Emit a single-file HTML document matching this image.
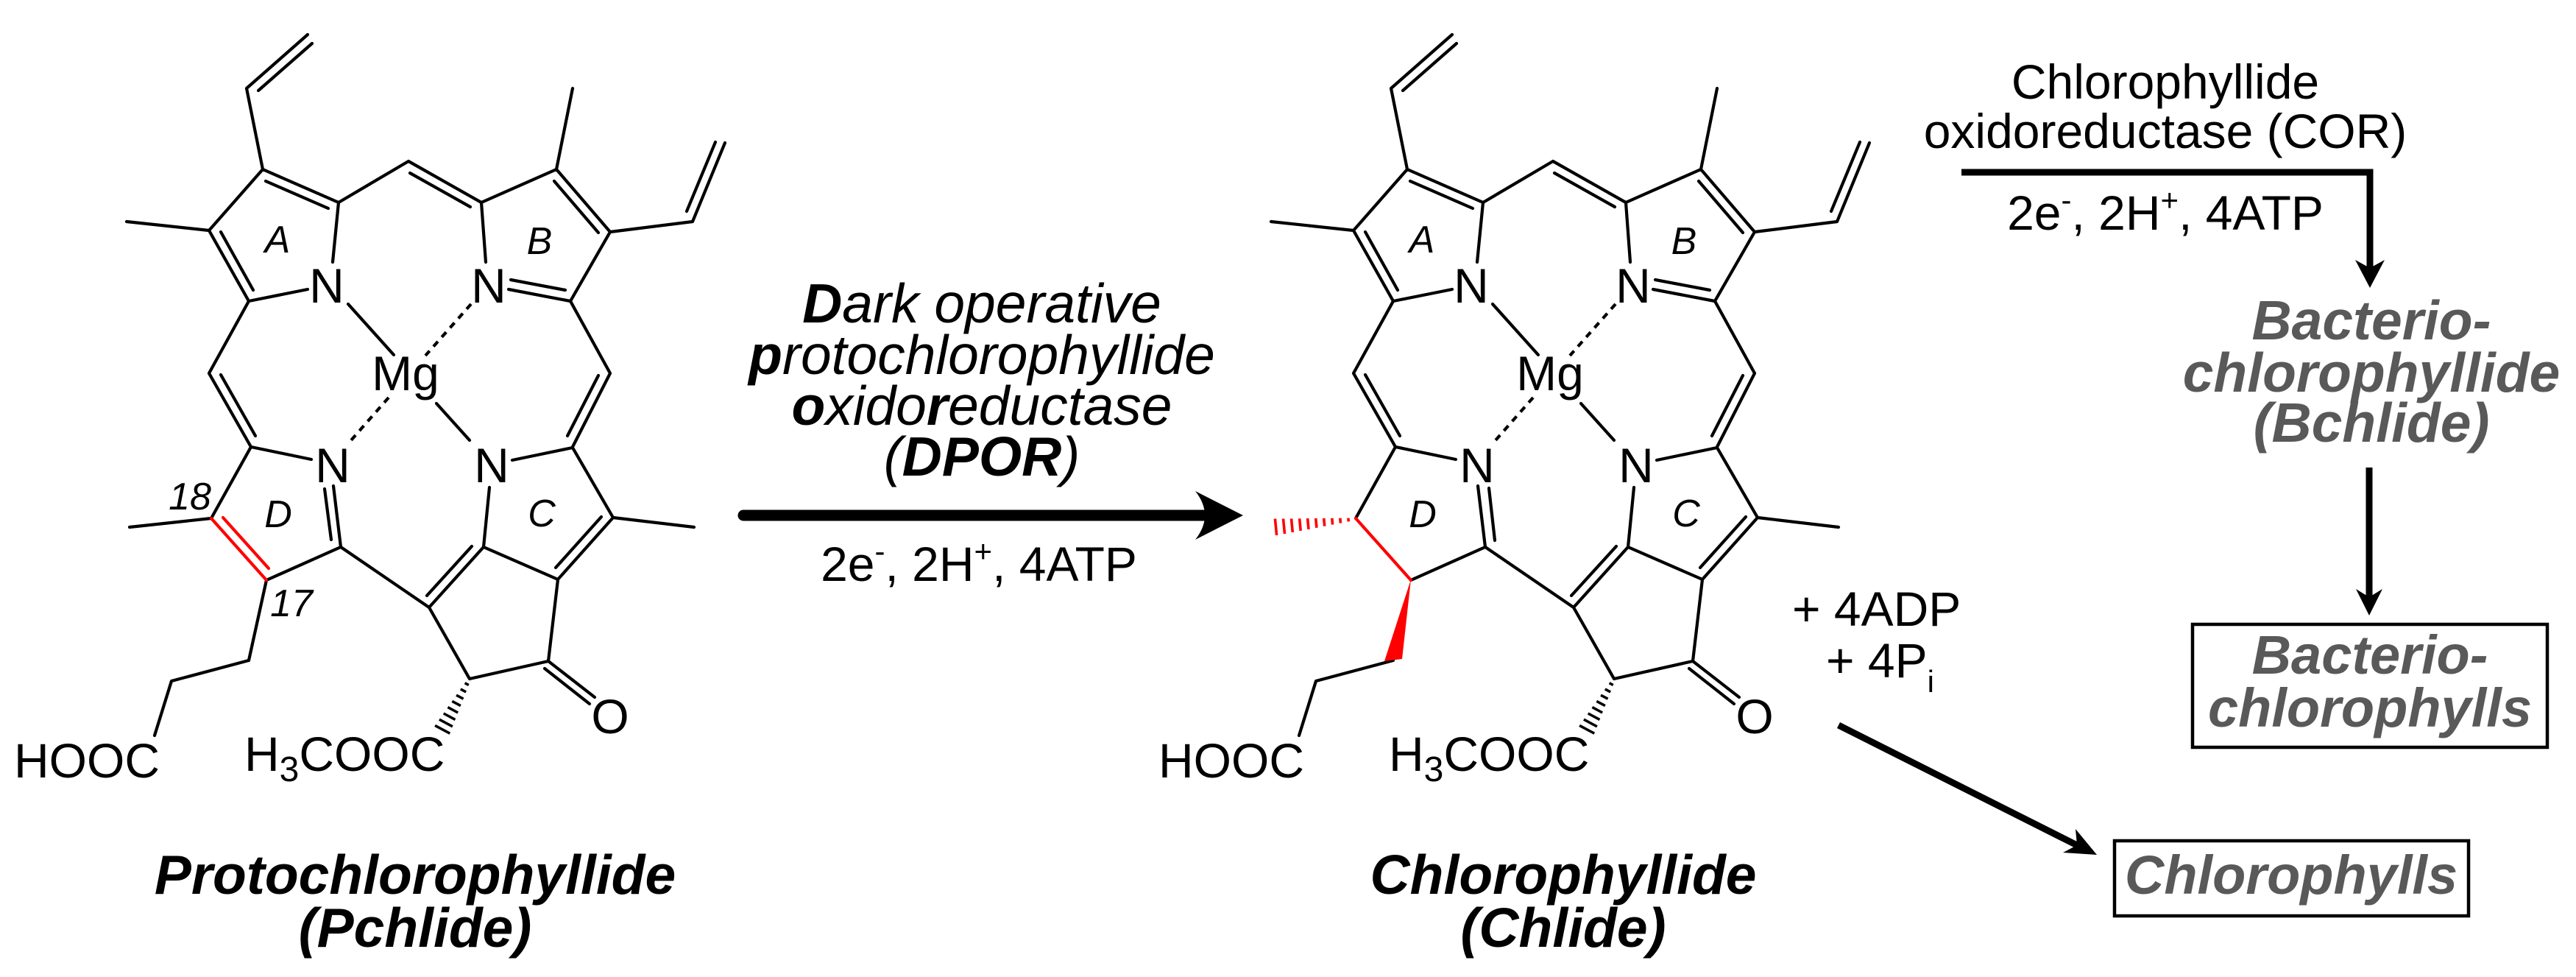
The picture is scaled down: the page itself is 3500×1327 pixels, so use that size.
<!DOCTYPE html>
<html>
<head>
<meta charset="utf-8">
<style>
  html,body{margin:0;padding:0;background:#fff;}
  svg{display:block;}
  text{font-family:"Liberation Sans", Arial, sans-serif;}
</style>
</head>
<body>
<svg width="3500" height="1327" viewBox="0 0 3500 1327" xmlns="http://www.w3.org/2000/svg">
<rect width="3500" height="1327" fill="#fff"/>

<!-- ============ LEFT MOLECULE (Pchlide) ============ -->
<g stroke="#000" stroke-width="4.2" stroke-linecap="round" fill="none">
  <path d="M357,230 L335,120 M335,120 L418,47 M351,123 L424,59
           M357,230 L460,275 M361,246 L446,283
           M357,230 L284,313 M284,313 L172,301
           M284,313 L338,409 M300,315 L344,394
           M338,409 L418,393 M460,275 L452,356
           M460,275 L555,219
           M555,219 L654,275 M557,235 L639,281
           M654,275 L660,356 M654,275 L756,230 M756,230 L778,120
           M756,230 L829,315 M753,246 L813,316
           M829,315 L941,301
           M941,301 L985,194 M933,287 L972,193
           M829,315 L775,409
           M691,393 L775,409 M694,380 L768,394
           M775,409 L829,507
           M829,507 L778,607 M813,510 L771,592
           M338,409 L284,507
           M284,507 L341,607 M300,509 L347,592
           M341,607 L423,624 M341,607 L287,704
           M362,788 L463,743
           M453,660 L463,743
           M463,743 L583,825
           M778,608 L696,625 M778,608 L833,703 M833,703 L943,716
           M833,703 L758,787 M817,702 L755,771
           M758,787 L657,743 M665,662 L657,743
           M657,743 L583,825 M641,742 L580,809
           M583,825 L638,922 M638,922 L745,898 M745,898 L758,787
           M745,898 L808,947 M740,908 L801,956
           M473,413 L535,482 M593,548 L638,598
           M338,897 L233,925 M233,925 L210,999"/>
  <!-- left-only -->
  <path d="M287,704 L176,716 M362,788 L338,897 M441,664 L450,733"/>
  <path d="M640,413 L578,483 M528,540 L477,598" stroke-dasharray="9 8" stroke-linecap="butt"/>
  <!-- hash to ester -->
  <path stroke-width="3.5" stroke-linecap="butt" d="M631.6,927.7 L636.8,930.5 M625.8,935.9 L633.2,939.9 M620.0,944.2 L629.6,949.2 M614.3,952.4 L625.9,958.6 M608.4,960.6 L622.2,968.0 M602.7,969.0 L618.5,977.4 M596.9,977.2 L614.9,986.8 M591.1,985.4 L611.3,996.2"/>
</g>
<!-- red double bond C17=C18 -->
<g stroke="#ff0000" stroke-width="4.2" stroke-linecap="round" fill="none">
  <path d="M287,704 L362,788 M303,703 L365,772"/>
</g>

<g font-size="66" fill="#000" text-anchor="middle">
  <text x="444" y="411">N</text>
  <text x="664" y="411">N</text>
  <text x="452" y="655">N</text>
  <text x="668" y="655">N</text>
  <text x="551" y="530">Mg</text>
  <text x="829" y="996">O</text>
  <text x="217" y="1056" text-anchor="end">HOOC</text>
  <text x="332" y="1047" text-anchor="start">H<tspan font-size="48" dy="14">3</tspan><tspan dy="-14">COOC</tspan></text>
</g>
<g font-size="52" font-style="italic" fill="#000" text-anchor="middle">
  <text x="377" y="343">A</text>
  <text x="733" y="345">B</text>
  <text x="736" y="715">C</text>
  <text x="378" y="716">D</text>
  <text x="258" y="692">18</text>
  <text x="396" y="837">17</text>
</g>
<g font-size="75" font-weight="bold" font-style="italic" fill="#000" text-anchor="middle">
  <text x="564" y="1214">Protochlorophyllide</text>
  <text x="564" y="1286">(Pchlide)</text>
</g>

<!-- ============ MIDDLE ARROW + TEXT ============ -->
<g font-size="75" font-style="italic" fill="#000" text-anchor="middle">
  <text x="1334" y="438"><tspan font-weight="bold">D</tspan>ark operative</text>
  <text x="1334" y="508"><tspan font-weight="bold">p</tspan>rotochlorophyllide</text>
  <text x="1334" y="577"><tspan font-weight="bold">o</tspan>xido<tspan font-weight="bold">r</tspan>eductase</text>
  <text x="1334" y="646">(<tspan font-weight="bold">DPOR</tspan>)</text>
</g>
<line x1="1010" y1="700" x2="1640" y2="700" stroke="#000" stroke-width="15" stroke-linecap="round"/>
<path d="M1689,700 L1624,667 Q1650,700 1624,733 Z" fill="#000"/>
<text x="1330" y="789" font-size="66" text-anchor="middle" fill="#000">2e<tspan font-size="42" dy="-26">-</tspan><tspan dy="26">, 2H</tspan><tspan font-size="42" dy="-26">+</tspan><tspan dy="26">, 4ATP</tspan></text>

<!-- ============ RIGHT MOLECULE (Chlide) ============ -->
<g transform="translate(1555,0)">
<g stroke="#000" stroke-width="4.2" stroke-linecap="round" fill="none">
  <path d="M357,230 L335,120 M335,120 L418,47 M351,123 L424,59
           M357,230 L460,275 M361,246 L446,283
           M357,230 L284,313 M284,313 L172,301
           M284,313 L338,409 M300,315 L344,394
           M338,409 L418,393 M460,275 L452,356
           M460,275 L555,219
           M555,219 L654,275 M557,235 L639,281
           M654,275 L660,356 M654,275 L756,230 M756,230 L778,120
           M756,230 L829,315 M753,246 L813,316
           M829,315 L941,301
           M941,301 L985,194 M933,287 L972,193
           M829,315 L775,409
           M691,393 L775,409 M694,380 L768,394
           M775,409 L829,507
           M829,507 L778,607 M813,510 L771,592
           M338,409 L284,507
           M284,507 L341,607 M300,509 L347,592
           M341,607 L423,624 M341,607 L287,704
           M362,788 L463,743
           M453,660 L463,743
           M463,743 L583,825
           M778,608 L696,625 M778,608 L833,703 M833,703 L943,716
           M833,703 L758,787 M817,702 L755,771
           M758,787 L657,743 M665,662 L657,743
           M657,743 L583,825 M641,742 L580,809
           M583,825 L638,922 M638,922 L745,898 M745,898 L758,787
           M745,898 L808,947 M740,908 L801,956
           M473,413 L535,482 M593,548 L638,598
           M338,897 L233,925 M233,925 L210,999"/>
  <path d="M468,663 L476,734"/>
  <path d="M640,413 L578,483 M528,540 L477,598" stroke-dasharray="9 8" stroke-linecap="butt"/>
  <path stroke-width="3.5" stroke-linecap="butt" d="M631.6,927.7 L636.8,930.5 M625.8,935.9 L633.2,939.9 M620.0,944.2 L629.6,949.2 M614.3,952.4 L625.9,958.6 M608.4,960.6 L622.2,968.0 M602.7,969.0 L618.5,977.4 M596.9,977.2 L614.9,986.8 M591.1,985.4 L611.3,996.2"/>
</g>
<g stroke="#ff0000" stroke-width="4.2" stroke-linecap="round" fill="none">
  <path d="M287,704 L362,788"/>
</g>
</g>
<!-- red hashed methyl and wedge (absolute) -->
<g stroke="#ff0000" stroke-width="3.6" fill="none">
  <path d="M1831.9,703.6 L1832.3,708.4 M1820.8,703.7 L1821.4,710.5 M1809.8,703.8 L1810.6,712.6 M1798.7,703.9 L1799.7,714.7 M1787.7,704.0 L1788.9,716.8 M1776.6,704.1 L1778.0,718.9 M1765.6,704.3 L1767.2,720.9 M1754.5,704.4 L1756.3,723.0 M1743.5,704.5 L1745.5,725.1 M1732.4,704.6 L1734.6,727.0"/>
</g>
<path d="M1917,787 L1881,898 L1905,895 Z" fill="#ff0000"/>

<g font-size="66" fill="#000" text-anchor="middle">
  <text x="1999" y="411">N</text>
  <text x="2219" y="411">N</text>
  <text x="2007" y="655">N</text>
  <text x="2223" y="655">N</text>
  <text x="2106" y="530">Mg</text>
  <text x="2384" y="996">O</text>
  <text x="1772" y="1056" text-anchor="end">HOOC</text>
  <text x="1887" y="1047" text-anchor="start">H<tspan font-size="48" dy="14">3</tspan><tspan dy="-14">COOC</tspan></text>
</g>
<g font-size="52" font-style="italic" fill="#000" text-anchor="middle">
  <text x="1932" y="343">A</text>
  <text x="2288" y="345">B</text>
  <text x="2291" y="715">C</text>
  <text x="1933" y="716">D</text>
</g>
<g font-size="75" font-weight="bold" font-style="italic" fill="#000" text-anchor="middle">
  <text x="2124" y="1214">Chlorophyllide</text>
  <text x="2124" y="1286">(Chlide)</text>
</g>

<!-- ============ RIGHT PATHWAY ============ -->
<g font-size="66" fill="#000" text-anchor="middle">
  <text x="2942" y="134">Chlorophyllide</text>
  <text x="2942" y="201">oxidoreductase (COR)</text>
  <text x="2942" y="312">2e<tspan font-size="42" dy="-26">-</tspan><tspan dy="26">, 2H</tspan><tspan font-size="42" dy="-26">+</tspan><tspan dy="26">, 4ATP</tspan></text>
</g>
<path d="M2665,234 H3220 V368" stroke="#000" stroke-width="9" fill="none" stroke-linejoin="miter"/>
<path d="M3220,391 L3200,353 L3220,364 L3240,353 Z" fill="#000"/>

<g font-size="75" font-weight="bold" font-style="italic" fill="#595959" text-anchor="middle">
  <text x="3222" y="461">Bacterio-</text>
  <text x="3222" y="532">chlorophyllide</text>
  <text x="3222" y="600">(Bchlide)</text>
</g>

<line x1="3219" y1="635" x2="3219" y2="815" stroke="#000" stroke-width="9"/>
<path d="M3219,836 L3201,800 L3219,811 L3237,800 Z" fill="#000"/>

<rect x="2979" y="848" width="482" height="167" fill="none" stroke="#000" stroke-width="4.5"/>
<g font-size="74" font-weight="bold" font-style="italic" fill="#595959" text-anchor="middle">
  <text x="3220" y="915">Bacterio-</text>
  <text x="3220" y="987">chlorophylls</text>
</g>

<g font-size="66" fill="#000">
  <text x="2435" y="850">+ 4ADP</text>
  <text x="2481" y="920">+ 4P<tspan font-size="42" dy="20">i</tspan></text>
</g>

<line x1="2498" y1="985" x2="2824" y2="1149" stroke="#000" stroke-width="9"/>
<path d="M2849,1161 L2803,1158 L2822,1148 L2820,1126 Z" fill="#000"/>

<rect x="2873" y="1142" width="481" height="102" fill="none" stroke="#000" stroke-width="4.5"/>
<text x="3113" y="1214" font-size="74" font-weight="bold" font-style="italic" fill="#595959" text-anchor="middle">Chlorophylls</text>

</svg>
</body>
</html>
